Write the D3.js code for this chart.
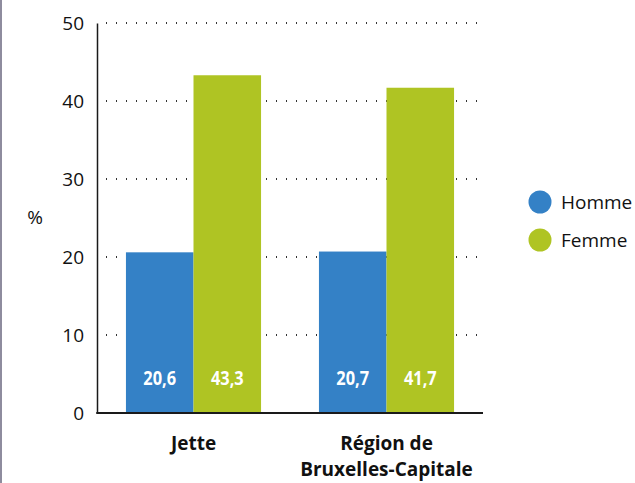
<!DOCTYPE html>
<html>
<head>
<meta charset="utf-8">
<script src="https://cdn.jsdelivr.net/npm/d3@7"></script>
<style>
  body { margin: 0; background: #fff; }
  svg text { font-family: "Open Sans", "Liberation Sans", sans-serif; fill: #111; }
  .catLabel { font-weight: bold; font-size: 19px; }
  .valLabel { font-weight: bold; font-size: 20px; fill: #fff; }
  .tick text { font-size: 19px; }
</style>
</head>
<body>
<svg id="chart" width="635" height="483"></svg>
<script>
/* ==== Data ==== */
var categories = [["Jette"], ["Région de", "Bruxelles-Capitale"]];
var series = ["Homme", "Femme"];
var homme = [20.6, 20.7];
var femme = [43.3, 41.7];
var yTicks = [0, 10, 20, 30, 40, 50];
var colors = ["#3481c6", "#afc423"];

function fmt(v) { return v.toFixed(1).replace(".", ","); }

/* ==== Layout ==== */
var LEFT = 97, RIGHT = 483, TOP = 23, BOTTOM = 413;

var svg = d3.select("#chart");

// grey frame line on the left edge
svg.append("rect").attr("x", 0).attr("y", 0).attr("width", 2).attr("height", 483).attr("fill", "#8e8c9e");

var catKeys = categories.map(c => c.join(" "));
var x = d3.scaleBand().domain(catKeys).range([LEFT, RIGHT]).paddingInner(0.3).paddingOuter(0.15);
var xs = d3.scaleBand().domain(series).range([0, x.bandwidth()]);
var y = d3.scaleLinear().domain([0, 50]).range([BOTTOM, TOP]);

/* ==== Grid ==== */
svg.append("g").attr("class", "grid")
   .selectAll("line")
   .data(yTicks.filter(t => t > 0))
   .enter().append("line")
   .attr("x1", LEFT + 9)
   .attr("x2", RIGHT)
   .attr("y1", d => y(d))
   .attr("y2", d => y(d))
   .attr("stroke", "#333")
   .attr("stroke-width", 2)
   .attr("stroke-dasharray", "1,9");

/* ==== Bars ==== */
var rows = [];
catKeys.forEach(function(k, i) {
  rows.push({ cat: k, s: "Homme", v: homme[i], c: colors[0] });
  rows.push({ cat: k, s: "Femme", v: femme[i], c: colors[1] });
});

svg.append("g").selectAll("rect")
   .data(rows).enter().append("rect")
   .attr("x", d => x(d.cat) + xs(d.s))
   .attr("width", xs.bandwidth())
   .attr("y", d => y(d.v))
   .attr("height", d => y(0) - y(d.v))
   .attr("fill", d => d.c);

// condensed-looking value labels: Open Sans bold squeezed horizontally
svg.append("g").selectAll("g")
   .data(rows).enter().append("g")
   .attr("transform", d => "translate(" + (x(d.cat) + xs(d.s) + xs.bandwidth() / 2) + ",385) scale(0.82,1)")
   .append("text")
   .attr("class", "valLabel")
   .attr("text-anchor", "middle")
   .text(d => fmt(d.v));

/* ==== Axes ==== */
var yAxis = svg.append("g")
   .attr("transform", "translate(" + LEFT + ",0)")
   .call(d3.axisLeft(y).tickValues(yTicks).tickSize(0).tickPadding(13));
yAxis.select(".domain").attr("stroke", "#1a1a1a").attr("stroke-width", 1.5);
yAxis.selectAll(".tick text").attr("font-family", null).attr("font-size", null).attr("dy", "0.36em");

svg.append("line")
   .attr("x1", LEFT - 0.75).attr("x2", RIGHT)
   .attr("y1", y(0)).attr("y2", y(0))
   .attr("stroke", "#1a1a1a").attr("stroke-width", 2);

svg.append("text").attr("x", 35).attr("y", 224).attr("text-anchor", "middle")
   .style("font-size", "19px").text("%");

var cat = svg.append("g").selectAll("text")
   .data(categories).enter().append("text")
   .attr("class", "catLabel")
   .attr("text-anchor", "middle")
   .attr("x", (d, i) => x(catKeys[i]) + x.bandwidth() / 2)
   .attr("y", 450);
cat.selectAll("tspan").data(d => d).enter().append("tspan")
   .attr("x", function() { return d3.select(this.parentNode).attr("x"); })
   .attr("dy", (d, i) => i === 0 ? 0 : 26)
   .text(d => d);

/* ==== Legend ==== */
var legend = svg.append("g").selectAll("g")
   .data(series).enter().append("g")
   .attr("transform", (d, i) => "translate(540," + (202 + i * 38) + ")");
legend.append("circle").attr("r", 11.5).attr("fill", (d, i) => colors[i]);
legend.append("text").attr("x", 21).attr("dy", "0.36em")
   .style("font-size", "19px").text(d => d);
</script>
</body>
</html>
